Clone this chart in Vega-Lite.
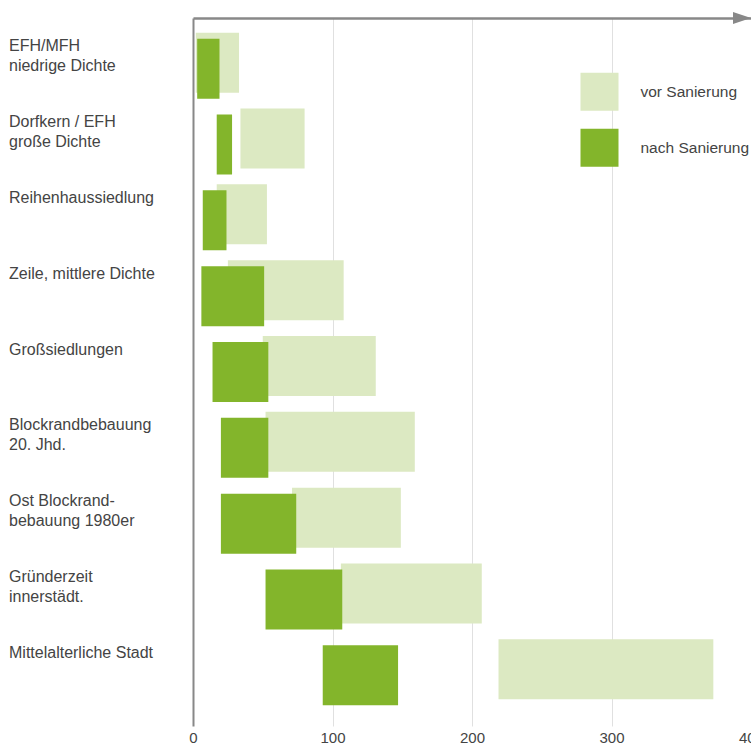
{
  "$schema": "https://vega.github.io/schema/vega-lite/v6.json",
  "width": 558,
  "height": 708,
  "padding": {"left": 8, "top": 11, "right": 0, "bottom": 5},
  "background": "white",
  "config": {"view": {"stroke": null}, "font": "Liberation Sans"},
  "datasets": {
    "balken": [
      {"Siedlungstyp": "EFH/MFH\nniedrige Dichte", "Zustand": "vor Sanierung", "von": 2, "bis": 33},
      {"Siedlungstyp": "EFH/MFH\nniedrige Dichte", "Zustand": "nach Sanierung", "von": 3, "bis": 19},
      {"Siedlungstyp": "Dorfkern / EFH\ngroße Dichte", "Zustand": "vor Sanierung", "von": 34, "bis": 80},
      {"Siedlungstyp": "Dorfkern / EFH\ngroße Dichte", "Zustand": "nach Sanierung", "von": 17, "bis": 28},
      {"Siedlungstyp": "Reihenhaussiedlung", "Zustand": "vor Sanierung", "von": 17, "bis": 53},
      {"Siedlungstyp": "Reihenhaussiedlung", "Zustand": "nach Sanierung", "von": 7, "bis": 24},
      {"Siedlungstyp": "Zeile, mittlere Dichte", "Zustand": "vor Sanierung", "von": 25, "bis": 108},
      {"Siedlungstyp": "Zeile, mittlere Dichte", "Zustand": "nach Sanierung", "von": 6, "bis": 51},
      {"Siedlungstyp": "Großsiedlungen", "Zustand": "vor Sanierung", "von": 50, "bis": 131},
      {"Siedlungstyp": "Großsiedlungen", "Zustand": "nach Sanierung", "von": 14, "bis": 54},
      {"Siedlungstyp": "Blockrandbebauung\n20. Jhd.", "Zustand": "vor Sanierung", "von": 52, "bis": 159},
      {"Siedlungstyp": "Blockrandbebauung\n20. Jhd.", "Zustand": "nach Sanierung", "von": 20, "bis": 54},
      {"Siedlungstyp": "Ost Blockrand-\nbebauung 1980er", "Zustand": "vor Sanierung", "von": 71, "bis": 149},
      {"Siedlungstyp": "Ost Blockrand-\nbebauung 1980er", "Zustand": "nach Sanierung", "von": 20, "bis": 74},
      {"Siedlungstyp": "Gründerzeit\ninnerstädt.", "Zustand": "vor Sanierung", "von": 106, "bis": 207},
      {"Siedlungstyp": "Gründerzeit\ninnerstädt.", "Zustand": "nach Sanierung", "von": 52, "bis": 107},
      {"Siedlungstyp": "Mittelalterliche Stadt", "Zustand": "vor Sanierung", "von": 219, "bis": 373},
      {"Siedlungstyp": "Mittelalterliche Stadt", "Zustand": "nach Sanierung", "von": 93, "bis": 147}
    ],
    "pfeil": [{"Achsenende": 400}]
  },
  "layer": [
    {
      "data": {"name": "balken"},
      "transform": [{"filter": "datum.Zustand === 'vor Sanierung'"}],
      "mark": {"type": "bar", "yOffset": -6},
      "encoding": {
        "y": {
          "field": "Siedlungstyp", "type": "nominal", "sort": null,
          "scale": {"paddingInner": 0.209, "paddingOuter": 0.273},
          "axis": {
            "orient": "left", "title": null, "ticks": false,
            "labelAlign": "left", "labelBaseline": "top", "labelPadding": 184.5, "labelOffset": -30.5,
            "labelFontSize": 16, "labelLineHeight": 20, "labelColor": "#444",
            "labelLimit": 200, "labelExpr": "split(datum.label, '\\n')",
            "domainColor": "#888", "domainWidth": 2
          }
        },
        "x": {
          "field": "von", "type": "quantitative",
          "scale": {"domain": [0, 400], "nice": false},
          "axis": {
            "orient": "bottom", "title": null, "domain": false, "ticks": false,
            "values": [0, 100, 200, 300, 400], "labelFontSize": 15, "labelColor": "#444",
            "labelPadding": 4, "labelFlush": false, "grid": true,
            "gridColor": {"condition": {"test": "datum.value === 0 || datum.value === 400", "value": "transparent"}, "value": "#e0e0e0"}
          }
        },
        "x2": {"field": "bis"},
        "color": {
          "field": "Zustand", "type": "nominal",
          "scale": {"domain": ["vor Sanierung", "nach Sanierung"], "range": ["#dce9c2", "#83b52b"]},
          "legend": {
            "orient": "none", "legendX": 387.5, "legendY": 54.7, "title": null,
            "symbolType": "square", "symbolSize": 1444, "symbolStrokeWidth": 0,
            "rowPadding": 18, "labelOffset": 22, "labelFontSize": 15.5, "labelColor": "#444",
            "padding": 0, "labelLimit": 300
          }
        }
      }
    },
    {
      "data": {"name": "balken"},
      "transform": [{"filter": "datum.Zustand === 'nach Sanierung'"}],
      "mark": {"type": "bar"},
      "encoding": {
        "y": {"field": "Siedlungstyp", "type": "nominal", "sort": null},
        "x": {"field": "von", "type": "quantitative", "axis": null},
        "x2": {"field": "bis"},
        "color": {"field": "Zustand", "type": "nominal"}
      }
    },
    {
      "data": {"name": "pfeil"},
      "mark": {"type": "point", "shape": "M-2,-0.67L0,0L-2,0.67Z", "filled": true, "size": 324, "fill": "#888", "strokeWidth": 0, "opacity": 1},
      "encoding": {
        "x": {"field": "Achsenende", "type": "quantitative", "axis": {"orient": "top", "title": null, "labels": false, "ticks": false, "grid": false, "domain": true, "domainColor": "#888", "domainWidth": 2.5}},
        "y": {"value": 0}
      }
    }
  ],
  "resolve": {"axis": {"x": "independent"}}
}
